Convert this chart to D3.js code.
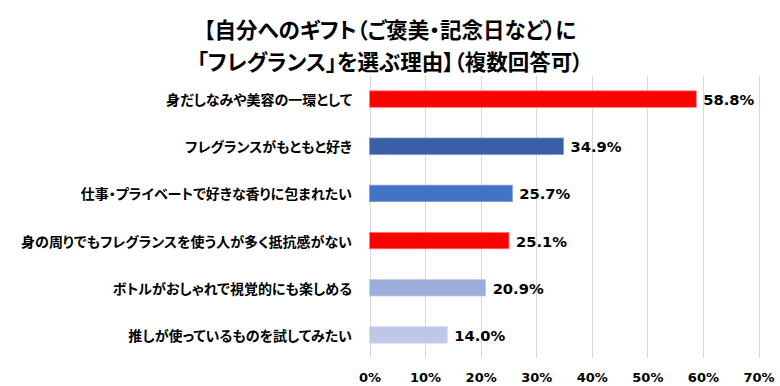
<!DOCTYPE html>
<html><head><meta charset="utf-8">
<script src="https://cdn.jsdelivr.net/npm/d3@7"></script>
<style>
html,body{margin:0;padding:0;background:#fff;}
svg{display:block;}
.jp{font-feature-settings:"palt";}
</style></head>
<body>
<svg id="chart" width="780" height="386"></svg>
<script>
const titleLines = ["【自分へのギフト（ご褒美・記念日など）に", "「フレグランス」を選ぶ理由】（複数回答可）"];
const categories = [
  "身だしなみや美容の一環として",
  "フレグランスがもともと好き",
  "仕事・プライベートで好きな香りに包まれたい",
  "身の周りでもフレグランスを使う人が多く抵抗感がない",
  "ボトルがおしゃれで視覚的にも楽しめる",
  "推しが使っているものを試してみたい"
];
const values = [58.8, 34.9, 25.7, 25.1, 20.9, 14.0];
const barColors = ["#FF0000", "#3A5FA8", "#4472C4", "#FF0000", "#9DADD9", "#BEC8E6"];
const strokeColors = ["#FF8080", "#7C96CC", "#7C9AD6", "#FF8080", "#C0CBE8", "#D6DCF0"];
const xTicks = [0, 10, 20, 30, 40, 50, 60, 70];

const svg = d3.select("#chart");
const x = d3.scaleLinear().domain([0, 70]).range([369.5, 758.5]);
const y = d3.scaleBand().domain(categories).range([75.5, 358.5]).paddingInner(0.65).paddingOuter(0.325);

// gridlines
svg.append("g").selectAll("line").data(xTicks).join("line")
  .attr("x1", d => Math.round(x(d)) + 0.5).attr("x2", d => Math.round(x(d)) + 0.5)
  .attr("y1", 76).attr("y2", 358)
  .attr("stroke", "#D9D9D9").attr("stroke-width", 1);

// title
svg.append("g").selectAll("text").data(titleLines).join("text")
  .attr("class", "jp")
  .attr("x", 390).attr("y", (d, i) => 28 + i * 32)
  .attr("text-anchor", "middle").attr("dominant-baseline", "central")
  .attr("font-family", "'Noto Sans CJK JP', sans-serif")
  .attr("font-weight", "bold").attr("font-size", 21.5).attr("fill", "#000")
  .text(d => d);

// bars
svg.append("g").selectAll("rect").data(values).join("rect")
  .attr("x", x(0))
  .attr("y", (d, i) => y(categories[i]))
  .attr("width", d => x(d) - x(0))
  .attr("height", y.bandwidth())
  .attr("fill", (d, i) => barColors[i])
  .attr("stroke", (d, i) => strokeColors[i]).attr("stroke-width", 0.75);

// value labels
svg.append("g").selectAll("text").data(values).join("text")
  .attr("x", d => x(d) + 7)
  .attr("y", (d, i) => y(categories[i]) + y.bandwidth() / 2 + 1)
  .attr("dominant-baseline", "central")
  .attr("font-family", "Verdana, 'DejaVu Sans', sans-serif")
  .attr("font-weight", "bold").attr("font-size", 14).attr("fill", "#000")
  .text(d => d.toFixed(1) + "%")
  .attr("textLength", 51).attr("lengthAdjust", "spacingAndGlyphs");

// category labels
svg.append("g").selectAll("text").data(categories).join("text")
  .attr("class", "jp")
  .attr("x", 352)
  .attr("y", d => y(d) + y.bandwidth() / 2)
  .attr("text-anchor", "end").attr("dominant-baseline", "central")
  .attr("font-family", "'Noto Sans CJK JP', sans-serif")
  .attr("font-weight", "bold").attr("font-size", 14).attr("fill", "#000")
  .text(d => d);

// x axis tick labels
const xAxis = d3.axisBottom(x).tickValues(xTicks).tickFormat(d => d + "%").tickSize(0).tickPadding(0);
const ax = svg.append("g").attr("transform", "translate(0,368)").call(xAxis);
ax.select(".domain").remove();
ax.selectAll("text")
  .attr("font-family", "Verdana, 'DejaVu Sans', sans-serif")
  .attr("font-weight", "bold").attr("font-size", 13).attr("fill", "#000")
  .attr("dy", null).attr("y", 9).attr("dominant-baseline", "central");
</script>
</body></html>
